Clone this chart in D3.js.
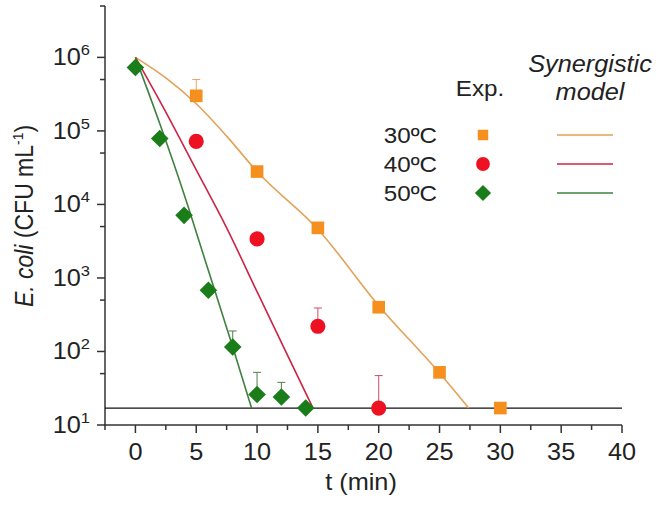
<!DOCTYPE html>
<html>
<head>
<meta charset="utf-8">
<title>E. coli inactivation</title>
<script src="https://d3js.org/d3.v7.min.js" charset="utf-8"></script>
<style>
    body { margin: 0; background: white; }
    svg text { font-family: 'Liberation Sans', Arial, sans-serif; fill: #222; }
</style>
</head>
<body>
<script>
// experimental points (time in min, CFU/mL, upper error bar end)
var t30 = [5, 10, 15, 20, 25, 30];
var n30 = [3.0e5, 2.8e4, 4.8e3, 4.0e2, 5.2e1, 1.7e1];
var e30 = [5.0e5, null, null, null, null, null];

var t40 = [5, 10, 15, 20];
var n40 = [7.2e4, 3.4e3, 2.2e2, 1.7e1];
var e40 = [null, null, 3.9e2, 4.7e1];

var t50 = [0, 2, 4, 6, 8, 10, 12, 14];
var n50 = [7.3e5, 7.9e4, 7.1e3, 6.8e2, 1.15e2, 2.6e1, 2.4e1, 1.7e1];
var e50 = [null, null, null, null, 1.9e2, 5.2e1, 3.8e1, null];

// synergistic model curves
var mt30 = [0, 2.5, 5, 7.5, 10, 15, 20, 25, 27.4];
var mn30 = [1e6, 5.25e5, 2.34e5, 8.5e4, 2.8e4, 4.6e3, 4.2e2, 5.1e1, 1.7e1];
var mt40 = [0, 2.5, 5, 7.5, 10, 12.5, 14.6];
var mn40 = [1e6, 1.8e5, 2.95e4, 4.8e3, 6.5e2, 8.9e1, 1.7e1];
var mt50 = [0, 2, 4, 6, 8, 9.55];
var mn50 = [1e6, 1.26e5, 1.38e4, 1.26e3, 1.15e2, 1.7e1];

var detLimit = 1.7e1;

var xTicks = [0, 5, 10, 15, 20, 25, 30, 35, 40];
var xMinor = [-2.5, 2.5, 7.5, 12.5, 17.5, 22.5, 27.5, 32.5, 37.5];
var yTicks = [1, 2, 3, 4, 5, 6];          // exponents
var yMinor = [5e1, 5e2, 5e3, 5e4, 5e5, 5e6];

var legendRows = ["30ºC", "40ºC", "50ºC"];

var W = 659, H = 507;
var sx = 1.1;   // the original text is a bit wide

var svg = d3.select("body").append("svg")
    .attr("width", W).attr("height", H);

var x = d3.scaleLinear().domain([-2.5, 40]).range([105, 622]);
var y = d3.scaleLog().domain([10, 5e6]).range([425, 6]);

var cOrange = "#f5901e", cRed = "#ee1122", cGreen = "#1a7d1a";
var lOrange = "#e3a258", lRed = "#cc2444", lGreen = "#3f813f";

function txt(g, px, py, size) {
    return g.append("text")
        .attr("transform", "translate(" + px + "," + py + ") scale(" + sx + ",1)")
        .style("font-size", size + "px");
}

// axes
var ax = svg.append("g").attr("stroke", "#333").attr("stroke-width", 1.5);
ax.append("line").attr("x1", 105).attr("x2", 105).attr("y1", y(5e6)).attr("y2", 425.5);
ax.append("line").attr("x1", 104.3).attr("x2", 622).attr("y1", 425).attr("y2", 425);

ax.selectAll(".xt").data(xTicks).enter().append("line")
    .attr("x1", function(d){ return x(d); }).attr("x2", function(d){ return x(d); })
    .attr("y1", 425).attr("y2", 433);
ax.selectAll(".xm").data(xMinor).enter().append("line")
    .attr("x1", function(d){ return x(d); }).attr("x2", function(d){ return x(d); })
    .attr("y1", 425).attr("y2", 430);
ax.selectAll(".yt").data(yTicks).enter().append("line")
    .attr("x1", 97).attr("x2", 105)
    .attr("y1", function(d){ return y(Math.pow(10, d)); })
    .attr("y2", function(d){ return y(Math.pow(10, d)); });
ax.selectAll(".ym").data(yMinor).enter().append("line")
    .attr("x1", 100).attr("x2", 105)
    .attr("y1", function(d){ return y(d); }).attr("y2", function(d){ return y(d); });

xTicks.forEach(function(d){
    txt(svg, x(d), 460, 23).attr("text-anchor", "middle").text(d);
});
yTicks.forEach(function(d){
    var t = txt(svg, 90, y(Math.pow(10, d)) + 8, 23).attr("text-anchor", "end");
    t.append("tspan").text("10");
    t.append("tspan").attr("dy", -10).style("font-size", "15px").text(d);
});

// axis titles
txt(svg, 361, 490, 23).attr("text-anchor", "middle").text("t (min)");
var yl = svg.append("text")
    .attr("transform", "translate(33,216) scale(" + sx + ",1) rotate(-90)")
    .attr("text-anchor", "middle")
    .style("font-size", "23px");
yl.append("tspan").style("font-style", "italic").text("E. coli");
yl.append("tspan").text(" (CFU mL");
yl.append("tspan").attr("dy", -9).style("font-size", "14px").text("-1");
yl.append("tspan").attr("dy", 9).text(")");

// detection limit
svg.append("line")
    .attr("x1", 105).attr("x2", x(40))
    .attr("y1", y(detLimit)).attr("y2", y(detLimit))
    .attr("stroke", "#111").attr("stroke-width", 1.3);

// model lines
var line = d3.line()
    .x(function(d){ return x(d[0]); })
    .y(function(d){ return y(d[1]); })
    .curve(d3.curveMonotoneX);

function model(ts, ns, col) {
    svg.append("path")
        .datum(d3.zip(ts, ns))
        .attr("d", line)
        .attr("fill", "none")
        .attr("stroke", col)
        .attr("stroke-width", 1.6);
}
model(mt30, mn30, lOrange);
model(mt40, mn40, lRed);
model(mt50, mn50, lGreen);

// error bars
function errBars(ts, ns, es, col) {
    var g = svg.append("g").attr("stroke", col).attr("stroke-width", 1);
    ts.forEach(function(t, i){
        if (es[i] == null) return;
        g.append("line").attr("x1", x(t)).attr("x2", x(t))
            .attr("y1", y(ns[i])).attr("y2", y(es[i]));
        g.append("line").attr("x1", x(t) - 4).attr("x2", x(t) + 4)
            .attr("y1", y(es[i])).attr("y2", y(es[i]));
    });
}
errBars(t30, n30, e30, "#e9a56a");
errBars(t40, n40, e40, "#c8506a");
errBars(t50, n50, e50, "#4f7f4f");

// markers
var sym = {
    square: d3.symbol().type(d3.symbolSquare).size(160),
    circle: d3.symbol().type(d3.symbolCircle).size(180),
    diamond: d3.symbol().type(d3.symbolSquare).size(155)
};

function points(ts, ns, shape, col) {
    svg.append("g").selectAll("path")
        .data(d3.zip(ts, ns)).enter().append("path")
        .attr("d", sym[shape])
        .attr("transform", function(d){
            return "translate(" + x(d[0]) + "," + y(d[1]) + ")" + (shape == "diamond" ? " rotate(45)" : "");
        })
        .attr("fill", col);
}
points(t30, n30, "square", cOrange);
points(t40, n40, "circle", cRed);
points(t50, n50, "diamond", cGreen);

// legend
txt(svg, 480, 96, 22).attr("text-anchor", "middle").text("Exp.");
txt(svg, 590, 72, 23).attr("text-anchor", "middle").style("font-style", "italic").text("Synergistic");
txt(svg, 590, 100, 23).attr("text-anchor", "middle").style("font-style", "italic").text("model");

var rowY = [135, 164, 193];
var rowFill = [cOrange, cRed, cGreen];
var rowLine = [lOrange, lRed, lGreen];
var rowSize = [110, 150, 130];
legendRows.forEach(function(lab, i){
    txt(svg, 437, rowY[i] + 8, 22).attr("text-anchor", "end").text(lab);
    svg.append("path")
        .attr("d", d3.symbol().type(i == 1 ? d3.symbolCircle : d3.symbolSquare).size(rowSize[i]))
        .attr("transform", "translate(483," + rowY[i] + ")" + (i == 2 ? " rotate(45)" : ""))
        .attr("fill", rowFill[i]);
    svg.append("line")
        .attr("x1", 557).attr("x2", 613)
        .attr("y1", rowY[i]).attr("y2", rowY[i])
        .attr("stroke", rowLine[i]).attr("stroke-width", 1.5);
});
</script>
</body>
</html>
